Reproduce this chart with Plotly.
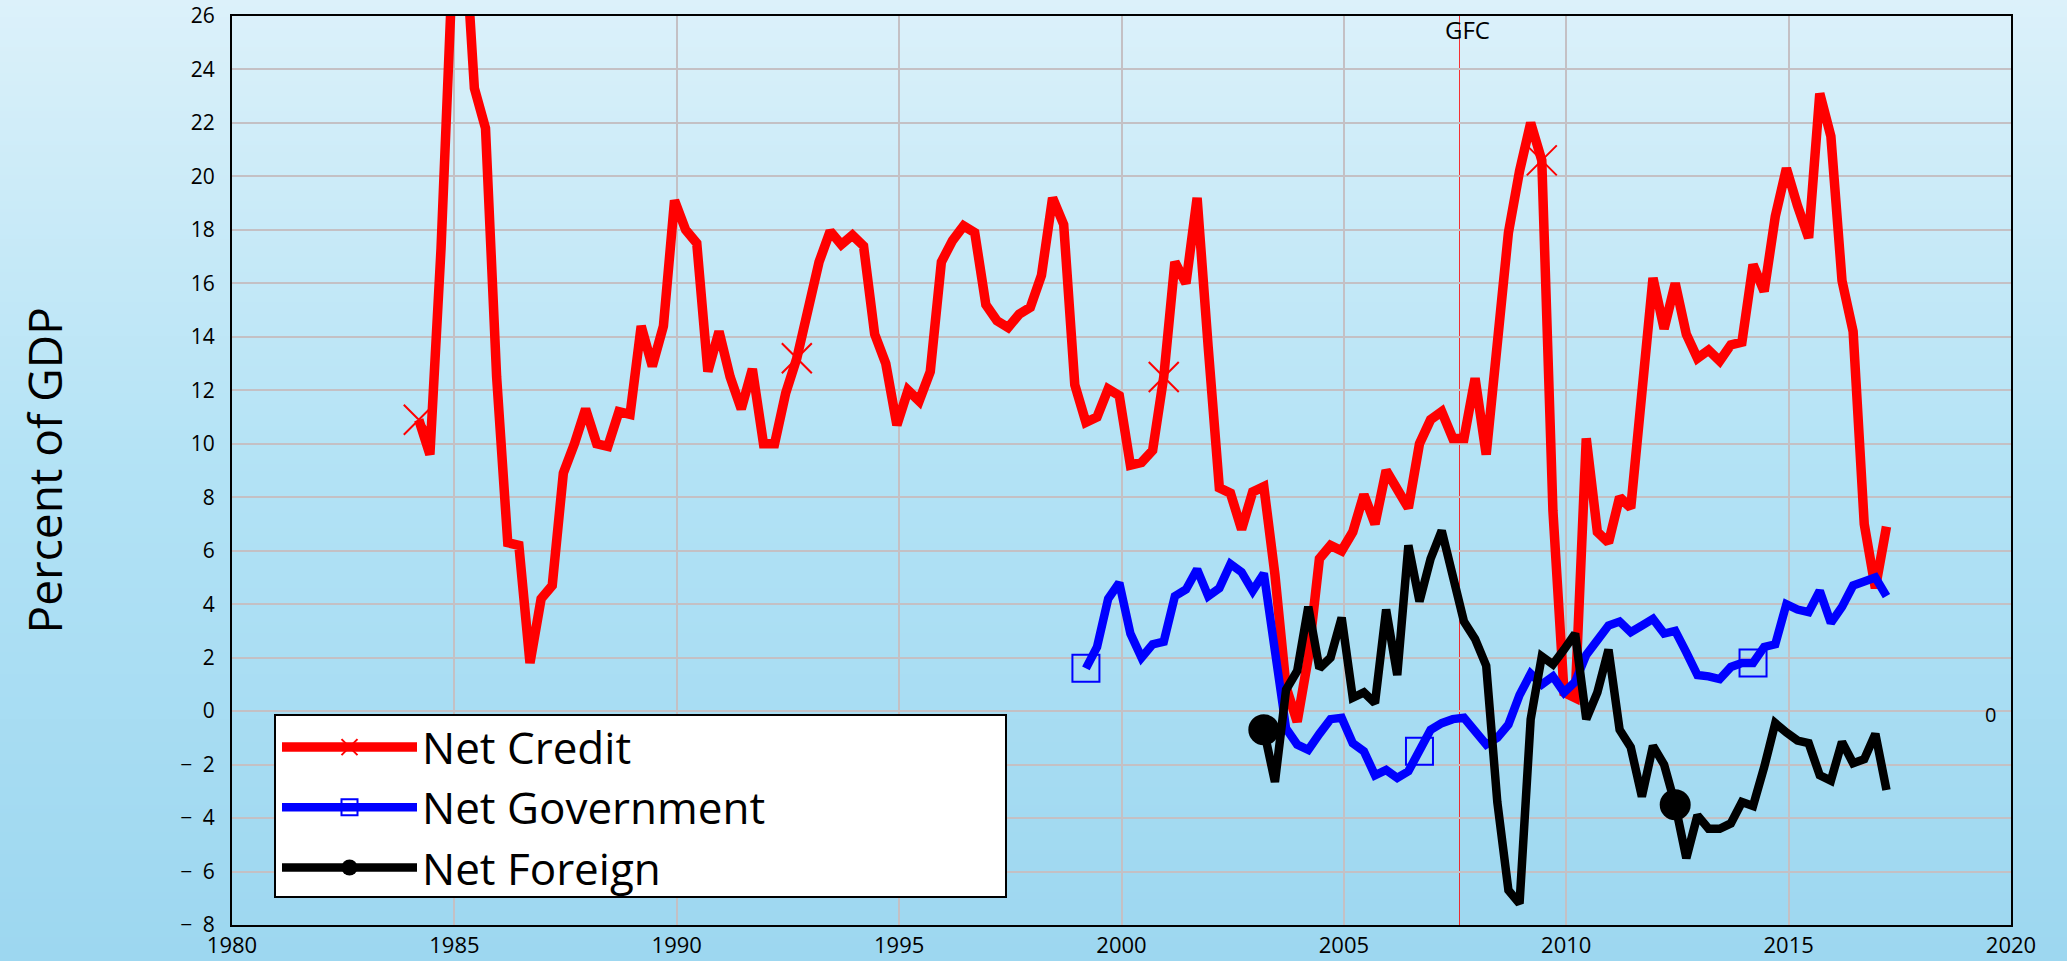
import base64
import struct
import zlib

import plotly.graph_objects as go

# ---------------- data (quarterly, % of GDP) ----------------
start_year = 1984.2          # first quarter shown for Net Credit
quarter = 0.25

net_credit = [
    10.9, 9.6, 17.3, 27.5, 30.0, 23.3, 21.8, 12.5, 6.3, 6.2,
    1.8, 4.2, 4.7, 8.9, 10.0, 11.3, 10.0, 9.9, 11.2, 11.1,
    14.4, 12.9, 14.4, 19.1, 18.0, 17.5, 12.7, 14.2, 12.5, 11.3,
    12.8, 10.0, 10.0, 11.9, 13.2, 15.1, 16.8, 17.95, 17.45, 17.8,
    17.4, 14.1, 13.0, 10.7, 12.0, 11.6, 12.7, 16.8, 17.6, 18.15,
    17.9, 15.2, 14.6, 14.35, 14.85, 15.1, 16.3, 19.2, 18.2, 12.2,
    10.8, 11.0, 12.05, 11.8, 9.2, 9.3, 9.75, 12.5, 16.8, 16.0,
    19.2, 13.6, 8.35, 8.15, 6.8, 8.2, 8.4, 5.1, 0.9, -0.4,
    2.0, 5.7, 6.2, 6.0, 6.7, 8.1, 7.0, 9.0, 8.3, 7.6,
    10.0, 10.9, 11.2, 10.2, 10.2, 12.45, 9.6, 14.2, 17.9, 20.2,
    22.0, 20.6, 7.5, 0.7, 0.5, 10.2, 6.7, 6.3, 8.0, 7.6,
    11.5, 16.2, 14.3, 16.0, 14.1, 13.2, 13.5, 13.1, 13.7, 13.8,
    16.7, 15.7, 18.5, 20.3, 18.9, 17.7, 23.1, 21.5, 16.1, 14.2,
    7.0, 4.6, 6.9,
]

net_government = [
    1.6, 2.4, 4.2, 4.8, 2.9, 2.0, 2.5, 2.6, 4.3, 4.55,
    5.3, 4.3, 4.6, 5.5, 5.2, 4.5, 5.15, 2.3, -0.65, -1.25,
    -1.45, -0.85, -0.3, -0.25, -1.2, -1.5, -2.4, -2.2, -2.5, -2.25,
    -1.5, -0.7, -0.45, -0.3, -0.25, -0.8, -1.25, -1.0, -0.5, 0.6,
    1.4, 1.0, 1.3, 0.7, 1.1, 2.1, 2.65, 3.2, 3.35, 2.95,
    3.2, 3.45, 2.9, 3.0, 2.2, 1.35, 1.3, 1.2, 1.65, 1.8,
    1.8, 2.4, 2.5, 4.0, 3.8, 3.7, 4.5, 3.3, 3.9, 4.7,
    4.85, 5.0, 4.3,
]

net_foreign = [
    -0.7, -2.65, 0.8, 1.5, 3.9, 1.6, 2.0, 3.5, 0.5, 0.7,
    0.3, 3.8, 1.35, 6.2, 4.1, 5.7, 6.75, 5.0, 3.35, 2.7,
    1.7, -3.4, -6.7, -7.2, -0.3, 2.05, 1.75, 2.3, 2.9, -0.3,
    0.7, 2.3, -0.7, -1.35, -3.2, -1.3, -2.0, -3.5, -5.5, -3.9,
    -4.4, -4.4, -4.2, -3.4, -3.55, -2.1, -0.45, -0.8, -1.1, -1.2,
    -2.4, -2.6, -1.15, -1.95, -1.8, -0.85, -2.95,
]

government_start_q = 60      # quarters after start_year
foreign_start_q = 76

credit_marker_idx = [0, 34, 67, 101]
government_marker_idx = [0, 30, 60]
foreign_marker_idx = [0, 37]

series_names = ["Net Credit", "Net Government", "Net Foreign"]

x_tick_vals = [1980, 1985, 1990, 1995, 2000, 2005, 2010, 2015, 2020]
y_tick_vals = list(range(-8, 27, 2))
y_tick_text = [("\u2212\u2002" + str(-v)) if v < 0 else str(v) for v in y_tick_vals]

gfc_year = 2007.6

# ---------------- helpers ----------------
def times(offset, n):
    return [start_year + quarter * (offset + i) for i in range(n)]


def marker_colors(n, idx, color):
    return [color if i in idx else "rgba(0,0,0,0)" for i in range(n)]


def gradient_png(stops, h=256, w=4):
    raw = bytearray()
    for r in range(h):
        t = r / (h - 1)
        for j in range(len(stops) - 1):
            t0, c0 = stops[j]
            t1, c1 = stops[j + 1]
            if t0 <= t <= t1:
                f = (t - t0) / (t1 - t0)
                col = [round(c0[k] + (c1[k] - c0[k]) * f) for k in range(3)]
                break
        raw += b"\x00" + bytes(col) * w

    def chunk(tag, data):
        return (struct.pack(">I", len(data)) + tag + data
                + struct.pack(">I", zlib.crc32(tag + data) & 0xFFFFFFFF))

    png = (b"\x89PNG\r\n\x1a\n"
           + chunk(b"IHDR", struct.pack(">IIBBBBB", w, h, 8, 2, 0, 0, 0))
           + chunk(b"IDAT", zlib.compress(bytes(raw)))
           + chunk(b"IEND", b""))
    return "data:image/png;base64," + base64.b64encode(png).decode()


FONT = "Open Sans"
W, H = 2067, 961
L, R, T, B = 232, 56, 16, 36
PW, PH = W - L - R, H - T - B

fig = go.Figure()

fig.add_trace(go.Scatter(
    x=times(0, len(net_credit)), y=net_credit, mode="lines+markers",
    name=series_names[0],
    line=dict(color="#ff0000", width=9.5),
    marker=dict(symbol="x-thin-open", size=30,
                color=marker_colors(len(net_credit), credit_marker_idx, "#ff0000"),
                line=dict(width=2)),
))
fig.add_trace(go.Scatter(
    x=times(government_start_q, len(net_government)), y=net_government,
    mode="lines+markers", name=series_names[1],
    line=dict(color="#0000ff", width=8.5),
    marker=dict(symbol="square-open", size=27,
                color=marker_colors(len(net_government), government_marker_idx, "#0000ff"),
                line=dict(width=2)),
))
fig.add_trace(go.Scatter(
    x=times(foreign_start_q, len(net_foreign)), y=net_foreign,
    mode="lines+markers", name=series_names[2],
    line=dict(color="#000000", width=8.5),
    marker=dict(symbol="circle", size=31,
                color=marker_colors(len(net_foreign), foreign_marker_idx, "#000000"),
                line=dict(width=0)),
))

grid_col = "#c4c0c4"
fig.update_xaxes(
    range=[1980, 2020], tickvals=x_tick_vals, ticks="",
    showgrid=True, gridcolor=grid_col, gridwidth=2, zeroline=False,
    showline=True, linecolor="black", linewidth=2, mirror=True,
    tickfont=dict(family=FONT, size=22, color="black"), ticklabelstandoff=0,
    ticklabeloverflow="allow", automargin=False,
)
fig.update_yaxes(
    range=[-8, 26], tickvals=y_tick_vals, ticktext=y_tick_text, ticks="",
    showgrid=True, gridcolor=grid_col, gridwidth=2, zeroline=False,
    showline=True, linecolor="black", linewidth=2, mirror=True,
    tickfont=dict(family=FONT, size=21, color="black"), ticklabelstandoff=11,
    ticklabeloverflow="allow", automargin=False,
)

bg = gradient_png([(0.0, (220, 241, 250)), (0.5, (178, 226, 245)), (1.0, (157, 215, 240))])

fig.update_layout(
    width=W, height=H,
    margin=dict(l=L, r=R, t=T, b=B, pad=0, autoexpand=False),
    paper_bgcolor="#b0e0f4", plot_bgcolor="rgba(0,0,0,0)",
    font=dict(family=FONT, color="black"),
    hovermode=False,
    images=[dict(source=bg, xref="paper", yref="paper",
                 x=-L / PW, y=1 + T / PH, sizex=W / PW, sizey=H / PH,
                 xanchor="left", yanchor="top", sizing="stretch", layer="below")],
    legend=dict(
        x=(277 - L) / PW, y=(H - B - 712) / PH, xanchor="left", yanchor="top",
        bgcolor="rgba(0,0,0,0)", borderwidth=0,
        font=dict(family=FONT, size=44, color="black"),
        itemwidth=135, traceorder="normal",
    ),
    shapes=[
        # legend frame
        dict(type="rect", xref="paper", yref="paper",
             x0=(275 - L) / PW, x1=(1006 - L) / PW,
             y0=(H - B - 897) / PH, y1=(H - B - 715) / PH,
             fillcolor="white", line=dict(color="black", width=2), layer="above"),
        # zero reference line
        dict(type="line", xref="paper", yref="y", x0=0, x1=1, y0=0, y1=0,
             line=dict(color="rgba(235,60,90,0.65)", width=1.5, dash="dash"), layer="below"),
        # GFC marker line
        dict(type="line", xref="x", yref="paper", x0=gfc_year, x1=gfc_year, y0=0, y1=1,
             line=dict(color="rgba(255,0,0,0.8)", width=1), layer="below"),
    ],
    annotations=[
        dict(text="Percent of GDP", xref="paper", yref="paper",
             x=(43 - L) / PW, y=0.5, xanchor="center", yanchor="middle",
             textangle=-90, showarrow=False,
             font=dict(family=FONT, size=46, color="black")),
        dict(text="GFC", xref="x", yref="paper", x=gfc_year, y=1,
             xanchor="center", yanchor="middle", xshift=8, yshift=-13,
             showarrow=False, font=dict(family=FONT, size=24, color="black")),
        dict(text="0", xref="x", yref="y", x=2019.55, y=0,
             xanchor="center", yanchor="middle", yshift=-3,
             showarrow=False, font=dict(family=FONT, size=20, color="black")),
    ],
)

fig.write_html(
    "out.html",
    config={"displayModeBar": False},
    post_script="document.body.style.margin='0';document.body.style.overflow='hidden';",
)
